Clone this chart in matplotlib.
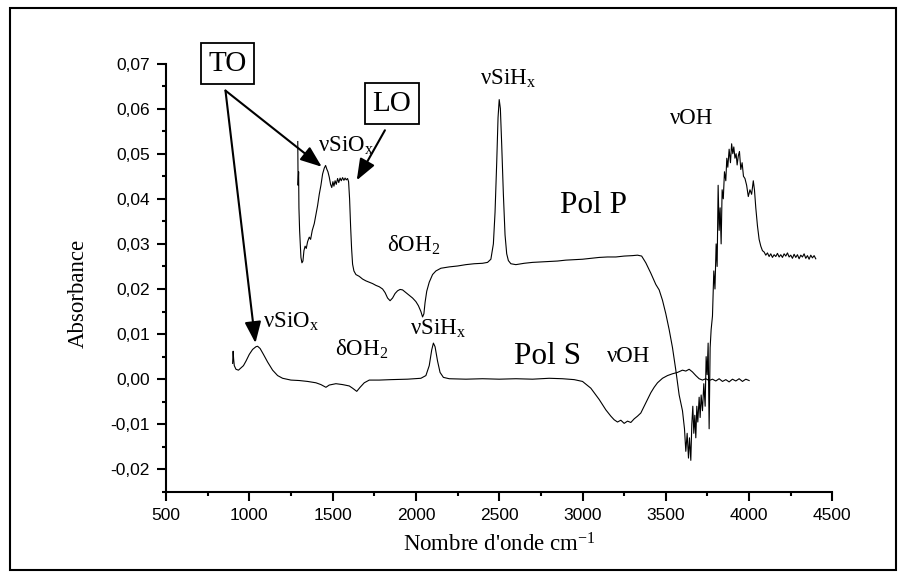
import matplotlib
matplotlib.use("Agg")
import matplotlib.pyplot as plt
from matplotlib.patches import Rectangle
from matplotlib.ticker import MultipleLocator, FuncFormatter

# Pol P spectrum (wavenumber cm-1, absorbance)
pol_p_wn = [1291, 1293, 1296, 1298, 1302, 1306, 1310, 1316, 1322, 1328, 1335, 1342,
            1350, 1360, 1368, 1378, 1390, 1400, 1410, 1420, 1430, 1440, 1450, 1458,
            1465, 1472, 1480, 1488, 1495, 1502, 1508, 1515, 1522, 1530, 1537, 1545,
            1552, 1560, 1568, 1575, 1582, 1590, 1596, 1602, 1608, 1614, 1620, 1628,
            1640, 1660, 1680, 1700, 1720, 1740, 1760, 1780, 1800, 1815, 1830, 1845,
            1860, 1875, 1890, 1905, 1920, 1940, 1960, 1980, 2000, 2015, 2030, 2040,
            2048, 2055, 2065, 2080, 2100, 2120, 2150, 2200, 2250, 2300, 2350, 2400,
            2430, 2450, 2465, 2475, 2485, 2493, 2500, 2507, 2515, 2525, 2535, 2545,
            2555, 2570, 2600, 2650, 2700, 2750, 2800, 2850, 2900, 2950, 3000, 3050,
            3100, 3150, 3200, 3250, 3300, 3330, 3355, 3380, 3410, 3440, 3460, 3480,
            3500, 3520, 3540, 3560, 3580, 3600, 3612, 3620, 3628, 3636, 3642, 3650,
            3656, 3662, 3668, 3674, 3680, 3686, 3692, 3700, 3706, 3712, 3720, 3728,
            3736, 3742, 3748, 3754, 3760, 3766, 3772, 3780, 3788, 3795, 3802, 3808,
            3814, 3820, 3826, 3832, 3838, 3845, 3852, 3860, 3866, 3872, 3880, 3888,
            3895, 3902, 3908, 3915, 3922, 3928, 3935, 3942, 3950, 3958, 3966, 3975,
            3985, 3995, 4005, 4015, 4025, 4032, 4040, 4050, 4060, 4070, 4080, 4090,
            4100, 4110, 4120, 4130, 4140, 4150, 4160, 4170, 4180, 4190, 4200, 4210,
            4220, 4230, 4240, 4250, 4260, 4270, 4280, 4290, 4300, 4310, 4320, 4330,
            4340, 4350, 4360, 4370, 4380, 4390, 4400]
pol_p_abs = [0.0527, 0.0430, 0.0460, 0.0380, 0.0330, 0.0300, 0.0270, 0.0258, 0.0262, 0.0285, 0.0295, 0.0290,
             0.0305, 0.0315, 0.0310, 0.0330, 0.0345, 0.0365, 0.0385, 0.0410, 0.0430, 0.0455, 0.0468, 0.0474,
             0.0466, 0.0460, 0.0448, 0.0432, 0.0425, 0.0438, 0.0428, 0.0440, 0.0432, 0.0445, 0.0436, 0.0446,
             0.0440, 0.0447, 0.0441, 0.0446, 0.0442, 0.0445, 0.0438, 0.0400, 0.0340, 0.0290, 0.0255, 0.0240,
             0.0232, 0.0228, 0.0222, 0.0218, 0.0215, 0.0212, 0.0208, 0.0205, 0.0200, 0.0192, 0.0180, 0.0174,
             0.0180, 0.0190, 0.0196, 0.0199, 0.0198, 0.0192, 0.0186, 0.0180, 0.0172, 0.0163, 0.0150, 0.0138,
             0.0145, 0.0170, 0.0195, 0.0215, 0.0232, 0.0240, 0.0246, 0.0249, 0.0251, 0.0254, 0.0256, 0.0257,
             0.0259, 0.0266, 0.0300, 0.0370, 0.0480, 0.0580, 0.0620, 0.0600, 0.0520, 0.0410, 0.0320, 0.0278,
             0.0263, 0.0256, 0.0254, 0.0257, 0.0259, 0.0260, 0.0261, 0.0262, 0.0264, 0.0265, 0.0266, 0.0268,
             0.0270, 0.0271, 0.0271, 0.0273, 0.0274, 0.0275, 0.0273, 0.0258, 0.0235, 0.0210, 0.0198, 0.0175,
             0.0145, 0.0110, 0.0070, 0.0020, -0.0035, -0.0070, -0.0110, -0.0160, -0.0120, -0.0175, -0.0130, -0.0180,
             -0.0100, -0.0060, -0.0120, -0.0080, -0.0130, -0.0060, -0.0095, -0.0040, -0.0085, -0.0035, -0.0070, -0.0010,
             -0.0060, 0.0050, 0.0010, 0.0080, -0.0110, 0.0070, 0.0110, 0.0140, 0.0240, 0.0200, 0.0300, 0.0250,
             0.0430, 0.0330, 0.0380, 0.0300, 0.0420, 0.0400, 0.0460, 0.0440, 0.0490, 0.0470, 0.0510, 0.0480,
             0.0522, 0.0500, 0.0515, 0.0490, 0.0500, 0.0475, 0.0495, 0.0505, 0.0465, 0.0480, 0.0450, 0.0445,
             0.0430, 0.0405, 0.0420, 0.0410, 0.0440, 0.0420, 0.0380, 0.0340, 0.0310, 0.0295, 0.0285, 0.0282,
             0.0275, 0.0280, 0.0272, 0.0278, 0.0270, 0.0276, 0.0272, 0.0279, 0.0271, 0.0276, 0.0270, 0.0278,
             0.0273, 0.0280, 0.0271, 0.0275, 0.0268, 0.0277, 0.0270, 0.0276, 0.0267, 0.0275, 0.0271, 0.0278,
             0.0268, 0.0274, 0.0266, 0.0275, 0.0269, 0.0274, 0.0267]

# Pol S spectrum
pol_s_wn = [900, 903, 906, 910, 920, 935, 950, 965, 980, 1000, 1020, 1040, 1050, 1065,
            1085, 1110, 1140, 1170, 1200, 1250, 1300, 1350, 1400, 1430, 1460, 1480,
            1520, 1560, 1600, 1620, 1645, 1665, 1690, 1720, 1780, 1850, 1950, 2030,
            2060, 2080, 2095, 2105, 2115, 2130, 2145, 2165, 2200, 2300, 2400, 2500,
            2600, 2700, 2800, 2880, 2950, 3000, 3050, 3100, 3140, 3170, 3190, 3210,
            3230, 3250, 3270, 3290, 3310, 3330, 3350, 3370, 3390, 3410, 3430, 3450,
            3480, 3510, 3540, 3570, 3600, 3620, 3640, 3660, 3680, 3700, 3720, 3740,
            3760, 3780, 3800, 3820, 3840, 3860, 3880, 3900, 3920, 3940, 3960, 3980, 4000]
pol_s_abs = [0.0035, 0.0062, 0.0045, 0.0030, 0.0022, 0.0020, 0.0025, 0.0030, 0.0040, 0.0055, 0.0066, 0.0072, 0.0073, 0.0068,
             0.0055, 0.0038, 0.0020, 0.0008, 0.0002, -0.0002, -0.0003, -0.0005, -0.0008, -0.0012, -0.0018, -0.0013,
             -0.0010, -0.0012, -0.0015, -0.0020, -0.0027, -0.0018, -0.0008, -0.0002, -0.0002, -0.0001, 0.0000, 0.0002,
             0.0008, 0.0030, 0.0065, 0.0080, 0.0072, 0.0040, 0.0015, 0.0004, 0.0001, 0.0000, 0.0001, 0.0000,
             0.0001, 0.0000, 0.0002, 0.0001, -0.0001, -0.0005, -0.0020, -0.0045, -0.0068, -0.0082, -0.0090, -0.0095,
             -0.0091, -0.0098, -0.0093, -0.0096, -0.0088, -0.0082, -0.0075, -0.0060, -0.0045, -0.0030, -0.0018, -0.0008,
             0.0002, 0.0008, 0.0012, 0.0015, 0.0020, 0.0018, 0.0022, 0.0016, 0.0008, 0.0001, -0.0002, 0.0001,
             -0.0003, 0.0000, -0.0004, 0.0001, -0.0005, -0.0001, -0.0006, 0.0000, -0.0004, 0.0001, -0.0005, 0.0000, -0.0003]

SERIF = ["Liberation Serif", "DejaVu Serif"]
plt.rcParams["font.family"] = ["Liberation Sans", "DejaVu Sans"]
plt.rcParams["mathtext.fontset"] = "custom"
plt.rcParams["mathtext.rm"] = "Liberation Serif"
plt.rcParams["mathtext.it"] = "Liberation Serif:italic"

fig = plt.figure(figsize=(9.06, 5.79), dpi=100)
ax = fig.add_axes([0.1832, 0.1504, 0.7356, 0.7399])

# outer frame
fig.patches.append(Rectangle((0.011, 0.0155), 0.978, 0.9706, transform=fig.transFigure,
                             fill=False, ec="black", lw=1.5))

ax.plot(pol_p_wn, pol_p_abs, color="black", lw=0.8)
ax.plot(pol_s_wn, pol_s_abs, color="black", lw=0.8)

ax.set_xlim(500, 4500)
ax.set_ylim(-0.025, 0.07)
ax.xaxis.set_major_locator(MultipleLocator(500))
ax.xaxis.set_minor_locator(MultipleLocator(250))
ax.yaxis.set_major_locator(MultipleLocator(0.01))
ax.yaxis.set_minor_locator(MultipleLocator(0.005))
ax.yaxis.set_major_formatter(FuncFormatter(lambda v, p: f"{v:.2f}".replace(".", ",").replace("-0,00", "0,00")))
for s in ("top", "right"):
    ax.spines[s].set_visible(False)
for s in ("left", "bottom"):
    ax.spines[s].set_linewidth(1.5)
ax.tick_params(which="major", direction="out", length=6.5, width=1.5, labelsize=12.5)
ax.tick_params(axis="y", which="major", pad=5)
ax.tick_params(axis="x", which="major", pad=5)
ax.tick_params(which="minor", direction="out", length=3, width=1.5)

ax.set_xlabel("Nombre d'onde cm$^{-1}$", family=SERIF, fontsize=16.5, va="center")
ax.set_ylabel("Absorbance", family=SERIF, fontsize=16.5, va="center")
ax.xaxis.set_label_coords(0.5, -0.124)
ax.yaxis.set_label_coords(-0.132, 0.464)

# labels on the spectra
lab = dict(family=SERIF, fontsize=16.5, va="center", ha="left")
ax.text(1412, 0.0517, "νSiO$_{\\mathrm{x}}$", **lab)
ax.text(2385, 0.0666, "νSiH$_{\\mathrm{x}}$", **lab)
ax.text(3525, 0.0579, "νOH", **lab)
ax.text(1827, 0.0297, "δOH$_{\\mathrm{2}}$", **lab)
ax.text(1082, 0.0128, "νSiO$_{\\mathrm{x}}$", **lab)
ax.text(1514, 0.0066, "δOH$_{\\mathrm{2}}$", **lab)
ax.text(1965, 0.0112, "νSiH$_{\\mathrm{x}}$", **lab)
ax.text(3147, 0.0050, "νOH", **lab)
ax.text(2865, 0.0386, "Pol P", family=SERIF, fontsize=22.5, va="center", ha="left")
ax.text(2589, 0.0050, "Pol S", family=SERIF, fontsize=22.5, va="center", ha="left")

box = dict(boxstyle="square,pad=0.25", fc="white", ec="black", lw=1.3)
ax.text(869, 0.0700, "TO", family=SERIF, fontsize=21, ha="center", va="center", bbox=box)
ax.text(1857, 0.0611, "LO", family=SERIF, fontsize=21, ha="center", va="center", bbox=box)

arrow = dict(arrowstyle="-|>,head_length=0.65,head_width=0.25", color="black", lw=1.5,
             mutation_scale=20, shrinkA=0, shrinkB=0)
ax.annotate("", xy=(1435, 0.0471), xytext=(857, 0.0640), arrowprops=arrow, annotation_clip=False)
ax.annotate("", xy=(1037, 0.0080), xytext=(857, 0.0640), arrowprops=arrow, annotation_clip=False)
ax.annotate("", xy=(1645, 0.0441), xytext=(1814, 0.0552), arrowprops=arrow, annotation_clip=False)

fig.savefig("out.png", dpi=100)
